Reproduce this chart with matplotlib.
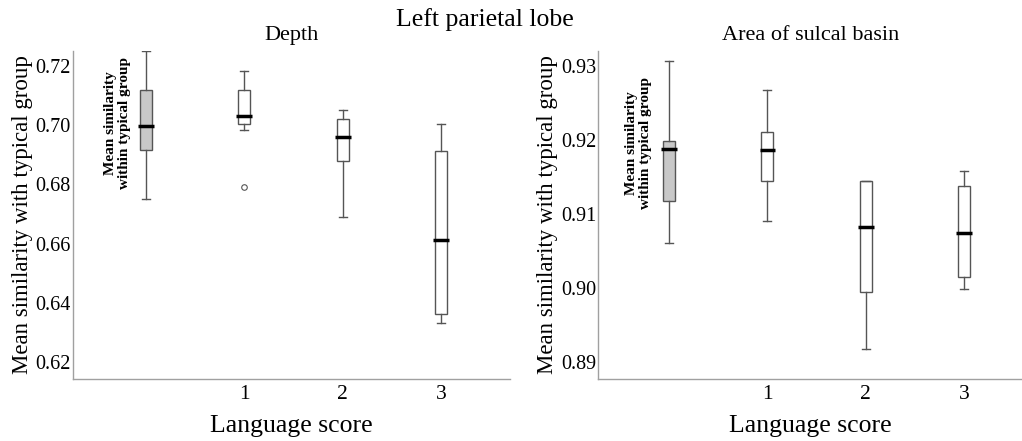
import matplotlib
matplotlib.use("Agg")
import matplotlib.pyplot as plt

plt.rcParams['font.family'] = ['Liberation Serif', 'DejaVu Serif']

positions = [0, 1, 2, 3]
xtick_labels = ["1", "2", "3"]

# Depth panel (typical, score 1, 2, 3)
depth_whislo = [0.675, 0.6983, 0.6689, 0.6331]
depth_q1     = [0.6915, 0.7003, 0.6880, 0.6364]
depth_med    = [0.6996, 0.7030, 0.6960, 0.6611]
depth_q3     = [0.7117, 0.7119, 0.7020, 0.6914]
depth_whishi = [0.7250, 0.7184, 0.7050, 0.7005]
depth_fliers = [[], [0.6792], [], []]

# Area of sulcal basin panel
area_whislo = [0.9061, 0.9090, 0.8918, 0.8998]
area_q1     = [0.9118, 0.9145, 0.8995, 0.9015]
area_med    = [0.9188, 0.9186, 0.9082, 0.9074]
area_q3     = [0.9199, 0.9210, 0.9145, 0.9137]
area_whishi = [0.9306, 0.9267, 0.9145, 0.9158]
area_fliers = [[], [], [], []]

fig = plt.figure(figsize=(10.22, 4.41), dpi=100)

edge = '#555555'

def panel(rect, title, lo, q1, med, q3, hi, fl, yticks, ylim, xlim, ann_xy):
    ax = fig.add_axes(rect)
    stats = []
    for i in range(len(positions)):
        stats.append(dict(whislo=lo[i], q1=q1[i], med=med[i], q3=q3[i],
                          whishi=hi[i], fliers=fl[i]))
    res = ax.bxp(stats, positions=positions, widths=0.12, patch_artist=True,
                 capwidths=0.08, showfliers=True,
                 boxprops=dict(edgecolor=edge, linewidth=1.0, facecolor='white'),
                 whiskerprops=dict(color=edge, linewidth=1.0),
                 capprops=dict(color=edge, linewidth=1.0),
                 medianprops=dict(color='none'),
                 flierprops=dict(marker='o', markersize=4, markerfacecolor='white',
                                 markeredgecolor=edge, markeredgewidth=0.8))
    res['boxes'][0].set_facecolor('#c8c8c8')
    ax.hlines(med, [p - 0.08 for p in positions], [p + 0.08 for p in positions],
              colors='black', linewidth=2.5, zorder=5)
    ax.set_xlim(*xlim)
    ax.set_ylim(*ylim)
    ax.set_xticks(positions[1:])
    ax.set_xticklabels(xtick_labels)
    ax.set_yticks(yticks)
    ax.set_yticklabels([f"{v:.2f}" for v in yticks])
    ax.tick_params(axis='y', length=0, labelsize=14.5, pad=1.5)
    ax.tick_params(axis='x', length=0, labelsize=15.5, pad=4)
    for s in ['top', 'right']:
        ax.spines[s].set_visible(False)
    for s in ['left', 'bottom']:
        ax.spines[s].set_color('#a0a0a0')
        ax.spines[s].set_linewidth(1.0)
    ax.set_title(title, fontsize=16, pad=8)
    ax.set_xlabel("Language score", fontsize=18.5, labelpad=8)
    ax.set_ylabel("Mean similarity with typical group", fontsize=16.5, labelpad=2)
    ax.text(ann_xy[0], ann_xy[1], "Mean similarity\nwithin typical group",
            rotation=90, fontsize=11, fontweight='bold', ha='center', va='center',
            transform=ax.transAxes, linespacing=1.1)
    return ax

panel([0.0714, 0.1406, 0.4276, 0.7438], "Depth",
      depth_whislo, depth_q1, depth_med, depth_q3, depth_whishi, depth_fliers,
      [0.62, 0.64, 0.66, 0.68, 0.70, 0.72], (0.6143, 0.725), (-0.74, 3.70),
      (0.103, 0.78))

panel([0.5854, 0.1406, 0.4146, 0.7438], "Area of sulcal basin",
      area_whislo, area_q1, area_med, area_q3, area_whishi, area_fliers,
      [0.89, 0.90, 0.91, 0.92, 0.93], (0.8877, 0.932), (-0.72, 3.59),
      (0.095, 0.72))

fig.text(0.474, 0.955, "Left parietal lobe", fontsize=18.5, ha='center', va='center')

fig.savefig("out.png", dpi=100)
